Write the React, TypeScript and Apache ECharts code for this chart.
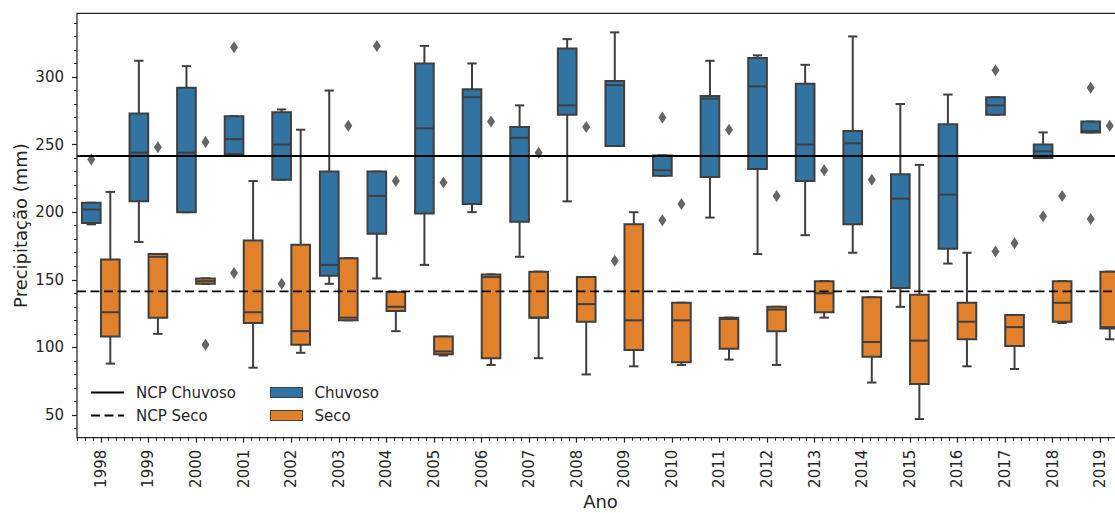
import React, { useEffect, useRef } from "react";
import * as echarts from "echarts";

const years = ["1998", "1999", "2000", "2001", "2002", "2003", "2004", "2005", "2006", "2007", "2008", "2009", "2010", "2011", "2012", "2013", "2014", "2015", "2016", "2017", "2018", "2019"];

// [min, q1, median, q3, max] per year
const chuvosoBoxes = [
  [191, 192, 202, 207, 207],
  [178, 208, 244, 273, 312],
  [200, 200, 244, 292, 308],
  [243, 243, 254, 271, 271],
  [224, 224, 250, 274, 276],
  [147, 153, 161, 230, 290],
  [151, 184, 212, 230, 230],
  [161, 199, 262, 310, 323],
  [200, 206, 285, 291, 310],
  [167, 193, 255, 263, 279],
  [208, 272, 279, 321, 328],
  [249, 249, 294, 297, 333],
  [227, 227, 231, 242, 242],
  [196, 226, 284, 286, 312],
  [169, 232, 293, 314, 316],
  [183, 223, 250, 295, 309],
  [170, 191, 251, 260, 330],
  [130, 144, 210, 228, 280],
  [162, 173, 213, 265, 287],
  [272, 272, 279, 285, 285],
  [240, 240, 245, 250, 259],
  [259, 259, 260, 267, 267],
];

const secoBoxes = [
  [88, 108, 126, 165, 215],
  [110, 122, 167, 169, 169],
  [147, 147, 149, 151, 151],
  [85, 118, 126, 179, 223],
  [96, 102, 112, 176, 261],
  [120, 120, 122, 166, 166],
  [112, 127, 130, 141, 141],
  [94, 95, 97, 108, 108],
  [87, 92, 152, 154, 154],
  [92, 122, 122, 156, 156],
  [80, 119, 132, 152, 152],
  [86, 98, 120, 191, 200],
  [87, 89, 120, 133, 133],
  [91, 99, 121, 122, 122],
  [87, 112, 128, 130, 130],
  [122, 126, 140, 149, 149],
  [74, 93, 104, 137, 137],
  [47, 73, 105, 139, 235],
  [86, 106, 119, 133, 170],
  [84, 101, 115, 124, 124],
  [118, 119, 133, 149, 149],
  [106, 114, 115, 156, 156],
];

// [year index, value]
const chuvosoOutliers = [
  [0, 239], [3, 322], [3, 155], [4, 147], [6, 323], [11, 164], [12, 270], [12, 194],
  [19, 305], [19, 171], [20, 197], [21, 292], [21, 195],
];
const secoOutliers = [
  [1, 248], [2, 252], [2, 102], [5, 264], [6, 223], [7, 222], [8, 267], [9, 244],
  [10, 263], [12, 206], [13, 261], [14, 212], [15, 231], [16, 224], [19, 177], [20, 212], [21, 264],
];

const ncpChuvoso = 241.6;
const ncpSeco = 141.5;

const yMajorTicks = [50, 100, 150, 200, 250, 300];
const yMinorTicks = [40, 50, 60, 70, 80, 90, 100, 110, 120, 130, 140, 150, 160, 170, 180, 190, 200, 210, 220, 230, 240, 250, 260, 270, 280, 290, 300, 310, 320, 330, 340];

const BLUE = "#3274A1";
const ORANGE = "#E1812C";
const EDGE = "#3f3f3f";
const TEXT = "#262626";
const FONT = "DejaVu Sans";

const HUE_OFFSET = 0.2;
const BOX_W = 0.392;

function makeRender(offset: number, color: string) {
  return (params: any, api: any) => {
    const i = api.value(0) as number;
    const mn = api.value(1), q1 = api.value(2), md = api.value(3), q3 = api.value(4), mx = api.value(5);
    const xc = api.coord([i + offset, md])[0];
    const yMin = api.coord([i, mn])[1];
    const yQ1 = api.coord([i, q1])[1];
    const yMd = api.coord([i, md])[1];
    const yQ3 = api.coord([i, q3])[1];
    const yMax = api.coord([i, mx])[1];
    const bw = api.size([BOX_W, 0])[0];
    const half = bw / 2;
    const capHalf = bw / 4;
    const ls = { stroke: EDGE, lineWidth: 2 };
    return {
      type: "group",
      children: [
        { type: "line", shape: { x1: xc, y1: yMin, x2: xc, y2: yQ1 }, style: ls },
        { type: "line", shape: { x1: xc, y1: yQ3, x2: xc, y2: yMax }, style: ls },
        { type: "line", shape: { x1: xc - capHalf, y1: yMin, x2: xc + capHalf, y2: yMin }, style: ls },
        { type: "line", shape: { x1: xc - capHalf, y1: yMax, x2: xc + capHalf, y2: yMax }, style: ls },
        { type: "rect", shape: { x: xc - half, y: yQ3, width: bw, height: yQ1 - yQ3 }, style: { fill: color, stroke: EDGE, lineWidth: 2 } },
        { type: "line", shape: { x1: xc - half, y1: yMd, x2: xc + half, y2: yMd }, style: ls },
      ],
    };
  };
}

export default function App() {
  const ref = useRef<HTMLDivElement>(null);
  useEffect(() => {
    if (!ref.current) return;
    const chart = echarts.init(ref.current, undefined, { renderer: "svg" });
    const idx = years.map((_, i) => i);
    const minorX: number[] = [];
    for (let k = -3; k <= 129; k++) minorX.push(k / 6);

    const boxData = (boxes: number[][]) => boxes.map((b, i) => [i, ...b]);
    const legendText = { fontSize: 15, color: TEXT, fontFamily: FONT, lineHeight: 15, padding: [0, 0, 0, 7] };

    chart.setOption({
      animation: false,
      textStyle: { fontFamily: FONT },
      grid: {
        left: 77,
        top: 13.3,
        right: -9,
        bottom: 75.3,
        outerBoundsMode: "none",
        containLabel: false,
        show: true,
        borderColor: TEXT,
        borderWidth: 1.25,
        backgroundColor: "transparent",
      },
      legend: [
        {
          orient: "vertical",
          left: 90,
          top: 385,
          padding: 0,
          itemWidth: 33,
          itemHeight: 10,
          itemGap: 8,
          textStyle: legendText,
          data: [
            { name: "NCP Chuvoso", itemStyle: { opacity: 0 } },
            { name: "NCP Seco", itemStyle: { opacity: 0 } },
          ],
        },
        {
          orient: "vertical",
          left: 270,
          top: 385,
          padding: 0,
          itemWidth: 32,
          itemHeight: 10,
          itemGap: 8,
          textStyle: legendText,
          data: [
            { name: "Chuvoso", icon: "rect", itemStyle: { color: BLUE, borderColor: EDGE, borderWidth: 1 } },
            { name: "Seco", icon: "rect", itemStyle: { color: ORANGE, borderColor: EDGE, borderWidth: 1 } },
          ],
        },
      ],
      xAxis: [
        {
          type: "value",
          min: -0.5,
          max: 21.5,
          position: "bottom",
          axisLine: { show: false, onZero: false },
          splitLine: { show: false },
          axisTick: { show: true, customValues: idx, length: 5, lineStyle: { color: TEXT, width: 1.25 } },
          axisLabel: {
            show: true,
            customValues: idx,
            formatter: (v: number) => years[Math.round(v)] ?? "",
            rotate: 90,
            margin: 12,
            fontSize: 15,
            color: TEXT,
            fontFamily: FONT,
          },
          name: "Ano",
          nameLocation: "middle",
          nameGap: 55,
          nameMoveOverlap: false,
          nameTextStyle: { fontSize: 18, lineHeight: 17, color: TEXT, fontFamily: FONT },
        },
        {
          type: "value",
          min: -0.5,
          max: 21.5,
          position: "bottom",
          axisLine: { show: false, onZero: false },
          splitLine: { show: false },
          axisLabel: { show: false },
          axisTick: { show: true, customValues: minorX, length: 3, lineStyle: { color: TEXT, width: 1 } },
        },
      ],
      yAxis: [
        {
          type: "value",
          min: 33.2,
          max: 347.1,
          position: "left",
          axisLine: { show: false, onZero: false },
          splitLine: { show: false },
          axisTick: { show: true, customValues: yMajorTicks, length: 5, lineStyle: { color: TEXT, width: 1.25 } },
          axisLabel: { show: true, customValues: yMajorTicks, margin: 13, fontSize: 15, color: TEXT, fontFamily: FONT },
          name: "Precipitação (mm)",
          nameLocation: "middle",
          nameGap: 48,
          nameMoveOverlap: false,
          nameTextStyle: { fontSize: 18, color: TEXT, fontFamily: FONT },
        },
        {
          type: "value",
          min: 33.2,
          max: 347.1,
          position: "left",
          offset: 0,
          axisLine: { show: false, onZero: false },
          splitLine: { show: false },
          axisLabel: { show: false },
          axisTick: { show: true, customValues: yMinorTicks, length: 3, lineStyle: { color: TEXT, width: 1 } },
        },
      ],
      series: [
        {
          name: "Chuvoso",
          type: "custom",
          xAxisIndex: 0,
          yAxisIndex: 0,
          itemStyle: { color: BLUE },
          renderItem: makeRender(-HUE_OFFSET, BLUE),
          encode: { x: 0, y: [1, 2, 3, 4, 5] },
          data: boxData(chuvosoBoxes),
          z: 2,
        },
        {
          name: "Seco",
          type: "custom",
          xAxisIndex: 0,
          yAxisIndex: 0,
          itemStyle: { color: ORANGE },
          renderItem: makeRender(HUE_OFFSET, ORANGE),
          encode: { x: 0, y: [1, 2, 3, 4, 5] },
          data: boxData(secoBoxes),
          z: 2,
        },
        {
          name: "Chuvoso outliers",
          type: "scatter",
          symbol: "diamond",
          symbolSize: [8, 12],
          itemStyle: { color: EDGE },
          data: chuvosoOutliers.map(([i, v]) => [i - HUE_OFFSET, v]),
          z: 3,
        },
        {
          name: "Seco outliers",
          type: "scatter",
          symbol: "diamond",
          symbolSize: [8, 12],
          itemStyle: { color: EDGE },
          data: secoOutliers.map(([i, v]) => [i + HUE_OFFSET, v]),
          z: 3,
        },
        {
          name: "NCP Chuvoso",
          type: "line",
          symbol: "none",
          lineStyle: { color: "#000", width: 2, type: "solid" },
          itemStyle: { color: "#000" },
          data: [[-0.5, ncpChuvoso], [21.5, ncpChuvoso]],
          z: 5,
        },
        {
          name: "NCP Seco",
          type: "line",
          symbol: "none",
          lineStyle: { color: "#000", width: 1.8, type: [9, 4.5] },
          itemStyle: { color: "#000" },
          data: [[-0.5, ncpSeco], [21.5, ncpSeco]],
          z: 5,
        },
      ],
    });
    return () => chart.dispose();
  }, []);
  return (
    <div
      ref={ref}
      style={{ position: "absolute", left: 0, top: 0, width: 1115, height: 513, overflow: "hidden", background: "#fff" }}
    />
  );
}
